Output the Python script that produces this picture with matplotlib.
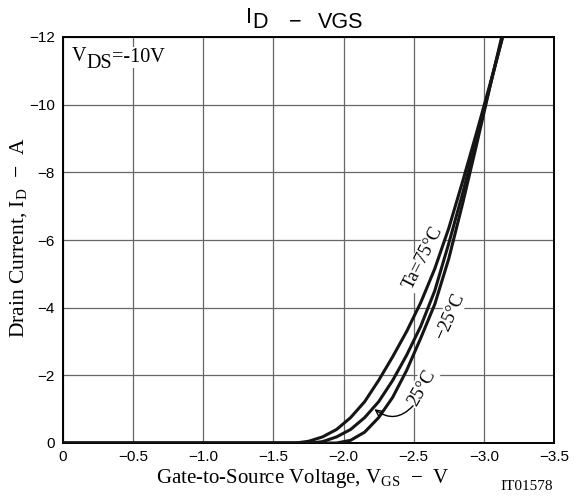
import numpy as np
import matplotlib.pyplot as plt

plt.rcParams['mathtext.fontset'] = 'custom'
plt.rcParams['mathtext.rm'] = 'Liberation Serif'

W, H = 583, 497
SERIF = 'Liberation Serif'
SANS = 'Liberation Sans'

# ID - VGS curves (VDS = -10V)
vgs_75 = [0, -1.66, -1.75, -1.85, -1.95, -2.05, -2.15, -2.25, -2.35, -2.45, -2.55,
          -2.65, -2.75, -2.85, -2.95, -3.05, -3.134]
id_75 = [0, 0, -0.05, -0.18, -0.40, -0.75, -1.22, -1.85, -2.55, -3.3, -4.15,
         -5.15, -6.35, -7.75, -9.2, -10.7, -12.0]

vgs_25 = [0, -1.77, -1.85, -1.95, -2.05, -2.15, -2.25, -2.35, -2.45, -2.55, -2.65,
          -2.75, -2.85, -2.95, -3.05, -3.133]
id_25 = [0, 0, -0.04, -0.18, -0.40, -0.75, -1.22, -1.85, -2.6, -3.45, -4.5,
         -5.9, -7.4, -9.0, -10.65, -12.0]

vgs_m25 = [0, -1.95, -2.05, -2.15, -2.25, -2.35, -2.45, -2.55, -2.65, -2.75, -2.85,
           -2.95, -3.05, -3.127]
id_m25 = [0, 0, -0.08, -0.32, -0.75, -1.35, -2.15, -3.1, -4.1, -5.45, -7.1,
          -8.85, -10.65, -12.0]

x_ticks = [0, -0.5, -1.0, -1.5, -2.0, -2.5, -3.0, -3.5]
x_labels = ['0', '\u22120.5', '\u22121.0', '\u22121.5', '\u22122.0', '\u22122.5', '\u22123.0', '\u22123.5']
y_ticks = [0, -2, -4, -6, -8, -10, -12]
y_labels = ['0', '\u22122', '\u22124', '\u22126', '\u22128', '\u221210', '\u221212']


def fig_xy(px, py):
    # pixel position (from top-left) -> figure fraction
    return px / W, 1 - py / H


fig = plt.figure(figsize=(W / 100, H / 100), dpi=100)
ax = fig.add_axes([63 / W, 54 / H, 491 / W, 406 / H])

for v, i in [(vgs_75, id_75), (vgs_25, id_25), (vgs_m25, id_m25)]:
    ax.plot(v, i, color='#151515', lw=2.2, zorder=4, solid_joinstyle='round')

ax.set_xlim(0, -3.5)
ax.set_ylim(0, -12)
ax.set_xticks(x_ticks)
ax.set_xticklabels(x_labels, fontfamily=SANS, fontsize=11)
ax.set_yticks(y_ticks)
ax.set_yticklabels(y_labels, fontfamily=SANS, fontsize=11)
ax.tick_params(axis='x', length=0, pad=5)
ax.tick_params(axis='y', length=0, pad=6)
ax.grid(True, color='#666666', lw=0.9)
ax.set_axisbelow(True)
for sp in ax.spines.values():
    sp.set_linewidth(1.4)

ax.set_xlabel('Gate-to-Source Voltage, V$_\\mathregular{GS}$  \u2212  V',
              fontfamily=SERIF, fontsize=15)
ax.xaxis.label.set_va('baseline')
ax.xaxis.set_label_coords(0.489, -0.0985)
ax.set_ylabel('Drain Current, I$_\\mathregular{D}$  \u2212  A',
              fontfamily=SERIF, fontsize=15.5)
ax.yaxis.label.set_va('center')
ax.yaxis.set_label_coords(-0.088, 0.506)

# title, subscripts drawn full size and lowered like the datasheet
tkw = dict(fontfamily=SANS, fontsize=15.5, va='baseline')
fig.text(*fig_xy(246, 23), 'I', **tkw)
fig.text(*fig_xy(252, 28.5), 'D', **tkw)
fig.text(*fig_xy(295, 27.5), '\u2212', ha='center', **tkw)
fig.text(*fig_xy(318, 28.5), 'VGS', **tkw)

# VDS condition
bkw = dict(fontfamily=SERIF, fontsize=14.5, annotation_clip=False,
           bbox=dict(fc='white', ec='none', pad=1.0), zorder=5)
prev = ax.annotate('V', xy=(72, H - 61), xycoords='figure pixels',
                   ha='left', va='baseline', **bkw)
prev = ax.annotate('DS', xy=(1, 0), xycoords=prev, xytext=(0, -5),
                   textcoords='offset points', ha='left', va='bottom', **bkw)
prev = ax.annotate('=-10V', xy=(1, 0), xycoords=prev, xytext=(0, 4.3),
                   textcoords='offset points', ha='left', va='bottom', **bkw)

# curve labels
lkw = dict(fontfamily=SERIF, fontsize=13.5, ha='center', va='center', zorder=3,
           rotation_mode='anchor', bbox=dict(fc='white', ec='none', pad=1.0))
ax.text(-2.566, -5.47, 'Ta=75\u00b0C', rotation=63, **lkw)
ax.text(-2.758, -3.73, '\u221225\u00b0C', rotation=66, **lkw)
ax.text(-2.556, -1.62, '25\u00b0C', rotation=60, **lkw)
ax.annotate('', xy=(-2.22, -1.0), xytext=(-2.495, -1.1),
            arrowprops=dict(arrowstyle='->', connectionstyle='arc3,rad=-0.45',
                            lw=1.0, color='black', shrinkA=0, shrinkB=0,
                            mutation_scale=10), zorder=5)

fig.text(553 / W, 1 - 490 / H, 'IT01578', fontfamily=SERIF, fontsize=11,
         ha='right', va='baseline')

fig.savefig('out.png', dpi=100)
